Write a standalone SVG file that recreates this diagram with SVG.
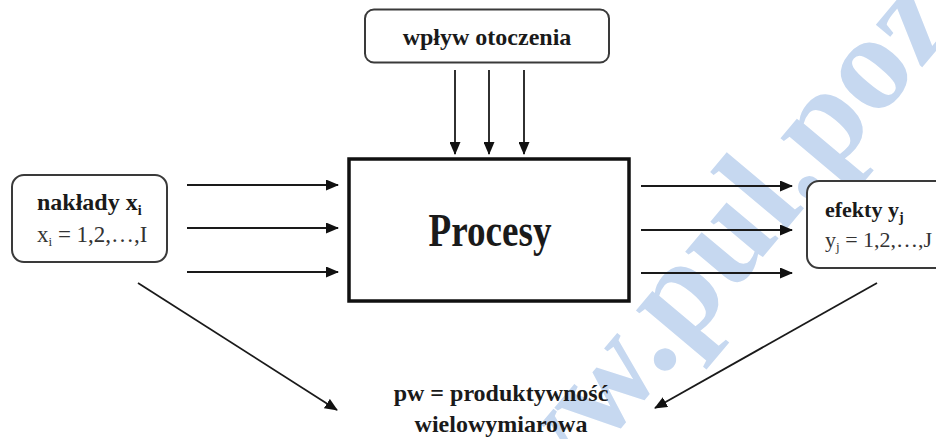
<svg xmlns="http://www.w3.org/2000/svg" width="936" height="439" viewBox="0 0 936 439">
  <defs>
    <marker id="ah" markerUnits="userSpaceOnUse" markerWidth="13" markerHeight="11" refX="12" refY="5.5" orient="auto">
      <path d="M0,0 L13,5.5 L0,11 z" fill="#111"/>
    </marker>
  </defs>
  <style>
    .box { fill: #fff; stroke: #3a3a3a; stroke-width: 2; }
    .main { fill: #fff; stroke: #111; stroke-width: 3.5; }
    .b { font-family: "Liberation Serif", "Times New Roman", serif; font-weight: bold; fill: #1a1a1a; }
    .r { font-family: "Liberation Serif", "Times New Roman", serif; fill: #333; }
    .conn line { stroke: #1a1a1a; stroke-width: 1.8; marker-end: url(#ah); }
    .wm { font-family: "Liberation Serif", "Times New Roman", serif; font-weight: bold; fill: #c6d8f0; }
  </style>
  <rect width="936" height="439" fill="#fff"/>
  <text class="wm" font-size="137" transform="translate(475,600) rotate(-50)">www.pul.poz</text>

  <g id="connectors" class="conn">
    <line x1="455" y1="70" x2="455" y2="154"/>
    <line x1="489" y1="70" x2="489" y2="154"/>
    <line x1="524" y1="70" x2="524" y2="154"/>
    <line x1="187" y1="185" x2="338" y2="185"/>
    <line x1="187" y1="228" x2="338" y2="228"/>
    <line x1="187" y1="272" x2="338" y2="272"/>
    <line x1="641" y1="186" x2="792" y2="186"/>
    <line x1="641" y1="230" x2="792" y2="230"/>
    <line x1="641" y1="273" x2="792" y2="273"/>
    <line x1="138" y1="283" x2="337" y2="410"/>
    <line x1="877" y1="283" x2="655" y2="408"/>
  </g>

  <g id="wplyw">
    <rect class="box" x="365" y="9.5" width="244" height="53" rx="9"/>
    <text class="b" x="487" y="45" font-size="24" text-anchor="middle">wpływ otoczenia</text>
  </g>

  <g id="procesy">
    <rect class="main" x="349" y="159" width="280" height="142"/>
    <text class="b" x="490" y="246" font-size="46" text-anchor="middle" textLength="123" lengthAdjust="spacingAndGlyphs">Procesy</text>
  </g>

  <g id="naklady">
    <rect class="box" x="12" y="175" width="155" height="87" rx="12"/>
    <text class="b" x="37" y="210" font-size="24">nakłady x<tspan font-size="14" dy="5">i</tspan></text>
    <text class="r" x="37" y="242" font-size="23">x<tspan font-size="13" dy="4">i</tspan><tspan dy="-4"> = 1,2,…,I</tspan></text>
  </g>

  <g id="efekty">
    <rect class="box" x="807" y="181" width="145" height="87" rx="12"/>
    <text class="b" x="825" y="217" font-size="22">efekty y<tspan font-size="14" dy="5">j</tspan></text>
    <text class="r" x="825" y="247" font-size="22">y<tspan font-size="13" dy="4">j</tspan><tspan dy="-4"> = 1,2,…,J</tspan></text>
  </g>

  <g id="pw">
    <text class="b" x="501" y="401" font-size="24" text-anchor="middle">pw = produktywność</text>
    <text class="b" x="501" y="432" font-size="24" text-anchor="middle">wielowymiarowa</text>
  </g>
</svg>
